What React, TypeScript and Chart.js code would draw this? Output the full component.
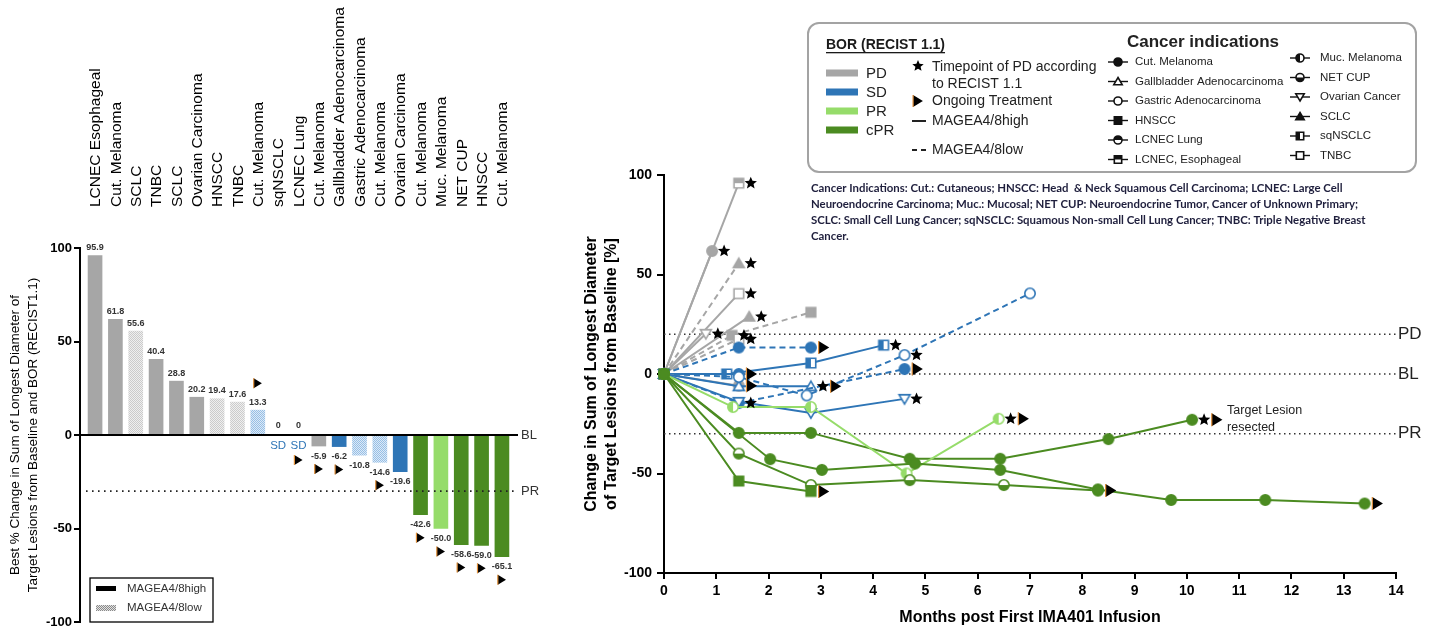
import React, { useEffect, useRef } from 'react';
import { Chart, registerables } from 'chart.js';

Chart.register(...registerables);

const SANS = '"Liberation Sans", Arial, Helvetica, sans-serif';
const NOTE_FONT = 'Lato, "Liberation Sans", sans-serif';

// Best overall response (RECIST 1.1) categories and colours
const borCategories = ['PD', 'SD', 'PR', 'cPR'];
const borColors = ['#a6a6a6', '#2e75b6', '#96dc6a', '#4b8b21'];
const borLowTints = [
  ['#efefef', '#cbcbcb'],
  ['#dde9f6', '#96bfe6'],
  ['#e4f6d8', '#b4e597'],
  ['#d6e7c9', '#8dbb6d'],
];
const colorOf = (bor: string) => borColors[borCategories.indexOf(bor)];

// Response thresholds (% change from baseline)
const responseLineValues = [20, 0, -30];
const responseLineLabels = ['PD', 'BL', 'PR'];

// One entry per patient, ordered by best % change
const patientIndications = [
  'LCNEC Esophageal', 'Cut. Melanoma', 'SCLC', 'TNBC', 'SCLC', 'Ovarian Carcinoma', 'HNSCC',
  'TNBC', 'Cut. Melanoma', 'sqNSCLC', 'LCNEC Lung', 'Cut. Melanoma', 'Gallbladder Adenocarcinoma',
  'Gastric Adenocarcinoma', 'Cut. Melanoma', 'Ovarian Carcinoma', 'Cut. Melanoma', 'Muc. Melanoma',
  'NET CUP', 'HNSCC', 'Cut. Melanoma',
];
const bestChange = [
  95.9, 61.8, 55.6, 40.4, 28.8, 20.2, 19.4, 17.6, 13.3, 0, 0,
  -5.9, -6.2, -10.8, -14.6, -19.6, -42.6, -50.0, -58.6, -59.0, -65.1,
];
const patientBor = [
  'PD', 'PD', 'PD', 'PD', 'PD', 'PD', 'PD', 'PD', 'SD', 'SD', 'SD',
  'PD', 'SD', 'SD', 'SD', 'SD', 'cPR', 'PR', 'cPR', 'cPR', 'cPR',
];
const patientExpression = [
  'high', 'high', 'low', 'high', 'high', 'high', 'low', 'low', 'low', 'high', 'high',
  'high', 'high', 'low', 'low', 'high', 'high', 'high', 'high', 'high', 'high',
];
const patientOngoing = [
  false, false, false, false, false, false, false, false, true, false, true,
  true, true, false, true, false, true, true, true, true, true,
];

// Tumour measurements over time (months, % change from baseline)
const patientMonths = [
  [0, 1.43], [0, 0.92], [0, 1.43], [0, 1.43], [0, 1.63], [0, 0.8], [0, 1.3, 2.81],
  [0, 1.43], [0, 1.43, 2.81], [0, 1.2, 2.81, 4.2], [0, 1.43], [0, 1.43], [0, 1.43, 2.81],
  [0, 1.43, 2.73, 4.6, 7.0], [0, 1.43, 4.6], [0, 1.43, 2.81, 4.6],
  [0, 1.43, 2.81, 4.7, 6.43, 8.5, 10.1], [0, 1.32, 2.81, 4.64, 6.4],
  [0, 1.43, 2.81, 4.7, 6.5, 8.3], [0, 1.43, 2.81], [0, 2.03, 3.02, 4.8, 6.43, 8.3, 9.7, 11.5, 13.4],
];
const patientChange = [
  [0, 95.9], [0, 61.8], [0, 55.6], [0, 40.4], [0, 28.8], [0, 20.2], [0, 19.4, 31],
  [0, 17.6], [0, 13.3, 13.3], [0, 0, 5.5, 14.5], [0, 0], [0, -5.9], [0, -6.2, -6.2],
  [0, -1.5, -10.8, 9.5, 40.5], [0, -14.6, 2.5], [0, -14, -19.6, -12.5],
  [0, -29.6, -29.6, -42.6, -42.6, -32.7, -23], [0, -16.6, -16.6, -50, -22.5],
  [0, -40, -55.8, -53.3, -55.8, -58.6], [0, -53.8, -59], [0, -42.8, -48.2, -45, -48.2, -58, -63.3, -63.3, -65.1],
];
// Index of the visit at which PD was assessed (-1: none)
const patientPdVisit = [1, 1, 1, 1, 1, 1, 1, 1, -1, 3, -1, -1, 2, 3, 1, 3, 6, 4, -1, -1, -1];
const resectedPatient = 16;
const resectedNote = ['Target Lesion', 'resected'];

// Cancer indication key
const legendIndications = [
  'Cut. Melanoma', 'Gallbladder Adenocarcinoma', 'Gastric Adenocarcinoma', 'HNSCC', 'LCNEC Lung',
  'LCNEC, Esophageal', 'Muc. Melanoma', 'NET CUP', 'Ovarian Cancer', 'SCLC', 'sqNSCLC', 'TNBC',
];
const legendMarkers = [
  'circleFill', 'triangleOpen', 'circleOpen', 'squareFill', 'circleHalfTop', 'squareHalfTop',
  'circleHalfLeft', 'circleHalfBottom', 'triangleDownOpen', 'triangleFill', 'squareHalfLeft', 'squareOpen',
];
const indicationAliases: Record<string, string> = {
  'LCNEC Esophageal': 'LCNEC, Esophageal',
  'Ovarian Carcinoma': 'Ovarian Cancer',
};
const markerFor = (name: string) => {
  const key = indicationAliases[name] || name;
  const idx = legendIndications.indexOf(key);
  return idx >= 0 ? legendMarkers[idx] : 'circleFill';
};

const abbreviationNotes = [
  'Cancer Indications: Cut.: Cutaneous; HNSCC: Head  & Neck Squamous Cell Carcinoma; LCNEC: Large Cell',
  'Neuroendocrine Carcinoma; Muc.: Mucosal; NET CUP: Neuroendocrine Tumor, Cancer of Unknown Primary;',
  'SCLC: Small Cell Lung Cancer; sqNSCLC: Squamous Non-small Cell Lung Cancer; TNBC: Triple Negative Breast',
  'Cancer.',
];

const RIGHT_LEFT = 575;

// ---------- drawing helpers ----------
function traceShape(ctx: CanvasRenderingContext2D, kind: string, x: number, y: number, r: number) {
  ctx.beginPath();
  if (kind.startsWith('circle')) {
    ctx.arc(x, y, r, 0, Math.PI * 2);
  } else if (kind.startsWith('square')) {
    const s = r * 0.92;
    ctx.rect(x - s, y - s, 2 * s, 2 * s);
  } else if (kind === 'triangleDownOpen') {
    ctx.moveTo(x, y + r);
    ctx.lineTo(x + r * 1.05, y - r * 0.8);
    ctx.lineTo(x - r * 1.05, y - r * 0.8);
    ctx.closePath();
  } else {
    ctx.moveTo(x, y - r);
    ctx.lineTo(x + r * 1.05, y + r * 0.8);
    ctx.lineTo(x - r * 1.05, y + r * 0.8);
    ctx.closePath();
  }
}

function paintMarker(ctx: CanvasRenderingContext2D, kind: string, x: number, y: number, r: number, color: string) {
  ctx.save();
  ctx.setLineDash([]);
  ctx.lineWidth = 1.6;
  ctx.strokeStyle = color;
  traceShape(ctx, kind, x, y, r);
  ctx.fillStyle = kind.endsWith('Fill') ? color : '#ffffff';
  ctx.fill();
  if (kind.includes('Half')) {
    ctx.save();
    traceShape(ctx, kind, x, y, r);
    ctx.clip();
    ctx.fillStyle = color;
    if (kind.endsWith('Top')) ctx.fillRect(x - r - 1, y - r - 1, 2 * r + 2, r + 1);
    else if (kind.endsWith('Bottom')) ctx.fillRect(x - r - 1, y, 2 * r + 2, r + 1);
    else ctx.fillRect(x - r - 1, y - r - 1, r + 1, 2 * r + 2);
    ctx.restore();
  }
  traceShape(ctx, kind, x, y, r);
  ctx.stroke();
  ctx.restore();
}

const markerCache = new Map<string, HTMLCanvasElement>();
function markerImage(kind: string, color: string, r: number) {
  const key = `${kind}|${color}|${r}`;
  const hit = markerCache.get(key);
  if (hit) return hit;
  const size = Math.ceil(2 * r + 5);
  const c = document.createElement('canvas');
  c.width = size;
  c.height = size;
  paintMarker(c.getContext('2d')!, kind, size / 2, size / 2, r, color);
  markerCache.set(key, c);
  return c;
}

function paintStar(ctx: CanvasRenderingContext2D, x: number, y: number, R: number) {
  ctx.save();
  ctx.beginPath();
  for (let k = 0; k < 10; k++) {
    const rr = k % 2 === 0 ? R : R * 0.45;
    const a = -Math.PI / 2 + (k * Math.PI) / 5;
    ctx.lineTo(x + rr * Math.cos(a), y + rr * Math.sin(a));
  }
  ctx.closePath();
  ctx.fillStyle = '#000';
  ctx.fill();
  ctx.restore();
}

function paintOngoing(ctx: CanvasRenderingContext2D, x: number, y: number, h: number) {
  const w = h * 0.82;
  ctx.save();
  ctx.setLineDash([]);
  ctx.beginPath();
  ctx.moveTo(x - w / 2, y - h / 2);
  ctx.lineTo(x + w / 2, y);
  ctx.lineTo(x - w / 2, y + h / 2);
  ctx.closePath();
  ctx.fillStyle = '#000';
  ctx.fill();
  ctx.strokeStyle = '#e3913a';
  ctx.lineWidth = 1.2;
  ctx.beginPath();
  ctx.moveTo(x - w / 2, y - h / 2);
  ctx.lineTo(x - w / 2, y + h / 2);
  ctx.stroke();
  ctx.restore();
}

function checkerPattern(ctx: CanvasRenderingContext2D, base: string, dot: string) {
  const tile = document.createElement('canvas');
  tile.width = 2;
  tile.height = 2;
  const t = tile.getContext('2d')!;
  t.fillStyle = base;
  t.fillRect(0, 0, 2, 2);
  t.fillStyle = dot;
  t.fillRect(0, 0, 1, 1);
  t.fillRect(1, 1, 1, 1);
  return ctx.createPattern(tile, 'repeat')!;
}

const fmt = (v: number) => (v === 0 ? '0' : v.toFixed(1));

// ---------- waterfall plot ----------
const waterfallDecor = {
  id: 'waterfallDecor',
  afterDatasetsDraw(chart: any) {
    const { ctx, chartArea: area, scales } = chart;
    const x = scales.x;
    const y = scales.y;
    const zeroY = y.getPixelForValue(0);
    const prY = y.getPixelForValue(responseLineValues[2]);
    ctx.save();
    ctx.strokeStyle = '#222';
    ctx.lineWidth = 1.6;
    ctx.setLineDash([1.6, 4.4]);
    ctx.beginPath();
    ctx.moveTo(area.left + 6, prY);
    ctx.lineTo(area.right, prY);
    ctx.stroke();
    ctx.setLineDash([]);
    ctx.strokeStyle = '#000';
    ctx.lineWidth = 2;
    ctx.beginPath();
    ctx.moveTo(area.left, zeroY);
    ctx.lineTo(area.right, zeroY);
    ctx.stroke();

    ctx.fillStyle = '#333';
    ctx.font = `13px ${SANS}`;
    ctx.textAlign = 'left';
    ctx.textBaseline = 'middle';
    ctx.fillText(responseLineLabels[1], area.right + 3, zeroY);
    ctx.fillText(responseLineLabels[2], area.right + 3, prY);

    bestChange.forEach((v, i) => {
      const cx = x.getPixelForValue(i);
      const endY = y.getPixelForValue(v);
      ctx.textAlign = 'center';
      ctx.textBaseline = 'middle';
      ctx.font = `bold 9px ${SANS}`;
      ctx.fillStyle = '#333';
      const labelY = v > 0 ? endY - 8 : v < 0 ? endY + 10 : zeroY - 9;
      ctx.fillText(fmt(v), cx, labelY);
      let markY = v > 0 ? labelY - 19 : labelY + 13;
      if (v === 0) {
        const sdY = zeroY + 11;
        ctx.fillStyle = colorOf('SD');
        ctx.font = `11.5px ${SANS}`;
        ctx.fillText(patientBor[i], cx, sdY);
        markY = sdY + 14;
      }
      if (patientOngoing[i]) paintOngoing(ctx, cx, markY, 10);
    });
    ctx.restore();
  },
  afterDraw(chart: any) {
    const { ctx, chartArea: area, scales } = chart;
    const x = scales.x;
    ctx.save();
    ctx.fillStyle = '#000';
    ctx.font = `15.5px ${SANS}`;
    ctx.textAlign = 'left';
    ctx.textBaseline = 'middle';
    patientIndications.forEach((name, i) => {
      ctx.save();
      ctx.translate(x.getPixelForValue(i) + 1, area.top - 41);
      ctx.rotate(-Math.PI / 2);
      ctx.fillText(name, 0, 0);
      ctx.restore();
    });

    // expression key
    ctx.strokeStyle = '#000';
    ctx.lineWidth = 1.3;
    ctx.strokeRect(90, 578, 123, 44);
    ctx.fillStyle = '#000';
    ctx.fillRect(96, 586, 20, 5);
    ctx.fillStyle = checkerPattern(ctx, '#e2e2e2', '#8a8a8a');
    ctx.fillRect(96, 605, 20, 6);
    ctx.fillStyle = '#333';
    ctx.font = `11.5px ${SANS}`;
    ctx.fillText('MAGEA4/8high', 127, 589);
    ctx.fillText('MAGEA4/8low', 127, 608);
    ctx.restore();
  },
};

function WaterfallChart() {
  const ref = useRef<HTMLCanvasElement>(null);
  useEffect(() => {
    const canvas = ref.current!;
    const ctx = canvas.getContext('2d')!;
    const fills = bestChange.map((_, i) => {
      const k = borCategories.indexOf(patientBor[i]);
      return patientExpression[i] === 'low'
        ? checkerPattern(ctx, borLowTints[k][0], borLowTints[k][1])
        : borColors[k];
    });
    const chart = new Chart(canvas, {
      type: 'bar',
      data: {
        datasets: [
          {
            data: bestChange.map((v, i) => ({ x: i, y: v })),
            backgroundColor: fills as any,
            borderWidth: 0,
            barThickness: 14,
          },
        ],
      },
      options: {
        responsive: false,
        animation: false,
        layout: { padding: { top: 248, right: 57, bottom: 14, left: 0 } },
        plugins: { legend: { display: false }, tooltip: { enabled: false } },
        scales: {
          x: { type: 'linear', display: false, offset: false, min: -0.74, max: 20.79 },
          y: {
            min: -100,
            max: 100,
            ticks: { stepSize: 50, color: '#000', padding: 2, font: { family: SANS, size: 13, weight: 'bold' } },
            grid: { drawOnChartArea: false, drawTicks: true, tickLength: 6, color: '#000', lineWidth: 2 },
            border: { color: '#000', width: 2 },
            title: {
              display: true,
              text: ['Best % Change in Sum of Longest Diameter of', 'Target Lesions from Baseline and BOR (RECIST1.1)'],
              color: '#000',
              font: { family: SANS, size: 13.5, lineHeight: 1.33 },
              padding: { top: 6, bottom: 0 },
            },
            afterFit: (s: any) => {
              s.width = 80;
            },
          },
        },
      } as any,
      plugins: [waterfallDecor],
    });
    return () => chart.destroy();
  }, []);
  return <canvas ref={ref} width={RIGHT_LEFT} height={636} style={{ position: 'absolute', left: 0, top: 0 }} />;
}

// ---------- spider plot ----------
function drawKey(ctx: CanvasRenderingContext2D) {
  ctx.save();
  ctx.translate(-RIGHT_LEFT, 0);
  ctx.textAlign = 'left';
  ctx.textBaseline = 'middle';

  ctx.strokeStyle = '#a3a3a3';
  ctx.lineWidth = 2;
  ctx.beginPath();
  (ctx as any).roundRect(808, 23, 608, 149, 11);
  ctx.stroke();

  const head = 'BOR (RECIST 1.1)';
  ctx.fillStyle = '#1a1a1a';
  ctx.font = `bold 14px ${SANS}`;
  ctx.fillText(head, 826, 45);
  ctx.fillRect(826, 52, ctx.measureText(head).width, 1.3);

  borCategories.forEach((b, k) => {
    const yy = 73 + k * 19;
    ctx.fillStyle = borColors[k];
    ctx.fillRect(826, yy - 3.5, 32, 7);
    ctx.fillStyle = '#222';
    ctx.font = `15px ${SANS}`;
    ctx.fillText(b, 866, yy + 1);
  });

  ctx.font = `14px ${SANS}`;
  paintStar(ctx, 918, 66, 6);
  ctx.fillStyle = '#222';
  ctx.fillText('Timepoint of PD according', 932, 67);
  ctx.fillText('to RECIST 1.1', 932, 84);
  paintOngoing(ctx, 918, 101, 12);
  ctx.fillStyle = '#222';
  ctx.fillText('Ongoing Treatment', 932, 101);
  ctx.fillRect(912, 120, 14, 2);
  ctx.fillText('MAGEA4/8high', 932, 121);
  ctx.fillRect(912, 149, 5, 2);
  ctx.fillRect(921, 149, 5, 2);
  ctx.fillText('MAGEA4/8low', 932, 150);

  ctx.font = `bold 17px ${SANS}`;
  ctx.textAlign = 'center';
  ctx.fillText('Cancer indications', 1203, 42);
  ctx.textAlign = 'left';

  legendIndications.forEach((name, k) => {
    const col = k < 6 ? 0 : 1;
    const row = k % 6;
    const mx = col ? 1300 : 1118;
    const tx = col ? 1320 : 1135;
    const yy = (col ? 58 : 62) + row * 19.5;
    ctx.strokeStyle = '#111';
    ctx.lineWidth = 1.4;
    ctx.beginPath();
    ctx.moveTo(mx - 10, yy);
    ctx.lineTo(mx + 10, yy);
    ctx.stroke();
    paintMarker(ctx, legendMarkers[k], mx, yy, 4, '#111');
    ctx.fillStyle = '#222';
    ctx.font = `11.5px ${SANS}`;
    ctx.fillText(name, tx, yy);
  });

  ctx.fillStyle = '#1f1f3d';
  ctx.font = `bold 11.4px ${NOTE_FONT}`;
  abbreviationNotes.forEach((line, k) => ctx.fillText(line, 811, 188 + k * 16));
  ctx.restore();
}

const spiderDecor = {
  id: 'spiderDecor',
  beforeDatasetsDraw(chart: any) {
    const { ctx, chartArea: area, scales } = chart;
    const y = scales.y;
    ctx.save();
    ctx.strokeStyle = '#333';
    ctx.lineWidth = 1.5;
    ctx.setLineDash([1.5, 3.5]);
    ctx.font = `17px ${SANS}`;
    ctx.fillStyle = '#222';
    ctx.textAlign = 'left';
    ctx.textBaseline = 'middle';
    responseLineValues.forEach((v, k) => {
      const yy = y.getPixelForValue(v);
      ctx.beginPath();
      ctx.moveTo(area.left, yy);
      ctx.lineTo(area.right, yy);
      ctx.stroke();
      ctx.fillText(responseLineLabels[k], area.right + 2, yy);
    });
    ctx.restore();
  },
  afterDatasetsDraw(chart: any) {
    const { ctx, scales } = chart;
    const x = scales.x;
    const y = scales.y;
    patientMonths.forEach((months, i) => {
      const vals = patientChange[i];
      const pd = patientPdVisit[i];
      if (pd >= 0) paintStar(ctx, x.getPixelForValue(months[pd]) + 12, y.getPixelForValue(vals[pd]), 6.5);
      const last = months.length - 1;
      if (patientOngoing[i]) {
        const shift = pd === last ? 25 : 13;
        paintOngoing(ctx, x.getPixelForValue(months[last]) + shift, y.getPixelForValue(vals[last]), 13);
      }
      if (i === resectedPatient) {
        ctx.save();
        ctx.fillStyle = '#222';
        ctx.font = `12.5px ${SANS}`;
        ctx.textAlign = 'left';
        ctx.textBaseline = 'middle';
        const px = x.getPixelForValue(months[last]) + 35;
        const py = y.getPixelForValue(vals[last]);
        ctx.fillText(resectedNote[0], px, py - 9);
        ctx.fillText(resectedNote[1], px, py + 8);
        ctx.restore();
      }
    });
  },
  afterDraw(chart: any) {
    drawKey(chart.ctx);
  },
};

function SpiderChart() {
  const ref = useRef<HTMLCanvasElement>(null);
  useEffect(() => {
    const canvas = ref.current!;
    const n = patientMonths.length;
    const datasets = patientMonths.map((months, i) => {
      const color = colorOf(patientBor[i]);
      return {
        data: months.map((m, j) => ({ x: m, y: patientChange[i][j] })),
        showLine: true,
        borderColor: color,
        backgroundColor: color,
        borderWidth: 2,
        borderDash: patientExpression[i] === 'low' ? [6, 4] : [],
        pointStyle: markerImage(markerFor(patientIndications[i]), color, 5.2),
        pointRadius: 6,
        clip: false,
        order: n - i,
      };
    });
    const tickFont = { family: SANS, size: 14, weight: 'bold' };
    const chart = new Chart(canvas, {
      type: 'scatter',
      data: { datasets: datasets as any },
      options: {
        responsive: false,
        animation: false,
        layout: { padding: { top: 175, right: 44, bottom: 0, left: 0 } },
        plugins: { legend: { display: false }, tooltip: { enabled: false } },
        scales: {
          x: {
            type: 'linear',
            min: 0,
            max: 14,
            ticks: { stepSize: 1, color: '#000', padding: 4, font: tickFont, maxRotation: 0 },
            grid: { drawOnChartArea: false, drawTicks: true, tickLength: 6, color: '#000', lineWidth: 2 },
            border: { color: '#000', width: 2 },
            title: {
              display: true,
              text: 'Months post First IMA401 Infusion',
              color: '#000',
              font: { family: SANS, size: 16, weight: 'bold' },
              padding: { top: 4, bottom: 9 },
            },
            afterFit: (s: any) => {
              s.height = 63;
            },
          },
          y: {
            min: -100,
            max: 100,
            ticks: { stepSize: 50, color: '#000', padding: 5, font: tickFont },
            grid: { drawOnChartArea: false, drawTicks: true, tickLength: 7, color: '#000', lineWidth: 2 },
            border: { color: '#000', width: 2 },
            title: {
              display: true,
              text: ['Change in Sum of Longest Diameter', 'of Target Lesions from Baseline [%]'],
              color: '#000',
              font: { family: SANS, size: 16, weight: 'bold', lineHeight: 1.25 },
              padding: { top: 7, bottom: 0 },
            },
            afterFit: (s: any) => {
              s.width = 89;
            },
          },
        },
      } as any,
      plugins: [spiderDecor],
    });
    return () => chart.destroy();
  }, []);
  return (
    <canvas
      ref={ref}
      width={1440 - RIGHT_LEFT}
      height={636}
      style={{ position: 'absolute', left: RIGHT_LEFT, top: 0 }}
    />
  );
}

export default function App() {
  return (
    <div style={{ position: 'absolute', left: 0, top: 0, width: 1440, height: 636, background: '#ffffff', overflow: 'hidden' }}>
      <WaterfallChart />
      <SpiderChart />
    </div>
  );
}
